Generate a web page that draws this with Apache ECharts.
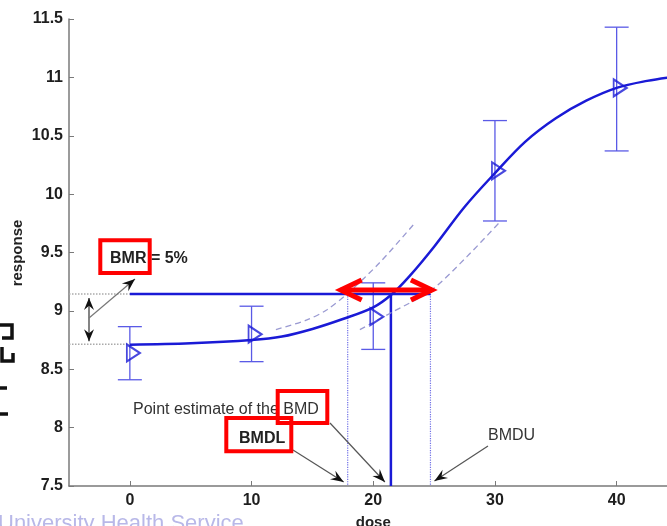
<!DOCTYPE html>
<html><head><meta charset="utf-8">
<script src="https://cdn.jsdelivr.net/npm/echarts@6/dist/echarts.min.js"></script>
<style>html,body{margin:0;padding:0;background:#fff;overflow:hidden}#c{width:667px;height:526px}</style>
</head><body><div id="c"></div>
<script>
// ---- data ----
const doses = [0, 10, 20, 30, 40];
const means = [8.64, 8.80, 8.95, 10.20, 10.91];
const errLow = [8.41, 8.565, 8.67, 9.77, 10.37];
const errHigh = [8.865, 9.04, 9.24, 10.63, 11.43];
const fitDose = [0, 5, 10, 12.5, 15, 17.5, 20, 21.5, 23, 25, 27.5, 30, 32.5, 35, 37.5, 40, 42.5, 45];
const fitResp = [8.71, 8.722, 8.75, 8.78, 8.845, 8.93, 9.03, 9.14, 9.30, 9.55, 9.89, 10.18, 10.45, 10.65, 10.80, 10.91, 10.97, 11.01];
const upperDose = [12, 14.5, 16.2, 17.9, 20.5, 23.4];
const upperResp = [8.84, 8.92, 9.01, 9.15, 9.41, 9.75];
const lowerDose = [18.9, 21.4, 24.8, 27.7, 30.3];
const lowerResp = [8.84, 8.98, 9.18, 9.465, 9.75];
const background = 8.715;
const bmrLevel = 9.145;
const bmd = 21.45;
const bmdl = 17.9;
const bmdu = 24.7;
const xTicks = [0, 10, 20, 30, 40];
const yTicks = [7.5, 8, 8.5, 9, 9.5, 10, 10.5, 11, 11.5];
const xMin = -5, xMax = 45, yMin = 7.5, yMax = 11.5;

const FONT = 'Liberation Sans, Arial, sans-serif';
const BLUE = '#1a1ad6';
const pair = (xs, ys) => xs.map((x, i) => [x, ys[i]]);

const chart = echarts.init(document.getElementById('c'));
const option = {
  animation: false,
  backgroundColor: '#fff',
  grid: { left: 69, top: 19, width: 608.5, height: 467, containLabel: false, outerBoundsMode: 'none' },
  xAxis: {
    type: 'value', min: xMin, max: xMax, interval: 5,
    name: 'dose', nameLocation: 'middle', nameGap: 29,
    nameTextStyle: { fontFamily: FONT, fontWeight: 'bold', fontSize: 15, color: '#222' },
    axisLine: { onZero: false, lineStyle: { color: '#7a7a7a', width: 1.5 } },
    axisTick: { inside: true, length: 5, customValues: xTicks, lineStyle: { color: '#7a7a7a', width: 1 } },
    axisLabel: { customValues: xTicks, margin: 7, fontFamily: FONT, fontWeight: 'bold', fontSize: 16, color: '#1e1e1e' },
    splitLine: { show: false }
  },
  yAxis: {
    type: 'value', min: yMin, max: yMax, interval: 0.5,
    axisLine: { show: true, onZero: false, lineStyle: { color: '#7a7a7a', width: 1.5 } },
    axisTick: { show: true, inside: true, length: 5, customValues: yTicks, lineStyle: { color: '#7a7a7a', width: 1 } },
    axisLabel: { customValues: yTicks, margin: 6, fontFamily: FONT, fontWeight: 'bold', fontSize: 16, color: '#1e1e1e' },
    splitLine: { show: false }
  },
  series: [
    { type: 'line', silent: true, symbol: 'none', data: [[xMin, background], [0, background]],
      lineStyle: { color: '#aaaaaa', width: 1.5, type: 'dotted' } },
    { type: 'line', silent: true, symbol: 'none', data: [[xMin, bmrLevel], [0, bmrLevel]],
      lineStyle: { color: '#aaaaaa', width: 1.5, type: 'dotted' } },
    { type: 'line', silent: true, symbol: 'none', data: [[bmdl, bmrLevel], [bmdl, yMin]],
      lineStyle: { color: '#7070e6', width: 1.2, type: 'dotted' } },
    { type: 'line', silent: true, symbol: 'none', data: [[bmdu, bmrLevel], [bmdu, yMin]],
      lineStyle: { color: '#7070e6', width: 1.2, type: 'dotted' } },
    { type: 'line', silent: true, symbol: 'none', data: [[0, bmrLevel], [bmdu, bmrLevel]],
      lineStyle: { color: BLUE, width: 2.5 } },
    { type: 'line', silent: true, symbol: 'none', data: [[bmd, bmrLevel], [bmd, yMin]],
      lineStyle: { color: BLUE, width: 2.5 } },
    { type: 'line', silent: true, symbol: 'none', smooth: 0.3, data: pair(upperDose, upperResp),
      lineStyle: { color: '#9a9ad2', width: 1.3, type: [6, 4] } },
    { type: 'line', silent: true, symbol: 'none', smooth: 0.3, data: pair(lowerDose, lowerResp),
      lineStyle: { color: '#9a9ad2', width: 1.3, type: [6, 4] } },
    { type: 'custom', silent: true,
      data: doses.map((d, i) => [d, errLow[i], errHigh[i]]),
      renderItem: function (params, api) {
        const lo = api.coord([api.value(0), api.value(1)]);
        const hi = api.coord([api.value(0), api.value(2)]);
        const w = 12;
        const st = { stroke: '#5a5ae6', lineWidth: 1.3 };
        return { type: 'group', children: [
          { type: 'line', shape: { x1: lo[0], y1: lo[1], x2: hi[0], y2: hi[1] }, style: st },
          { type: 'line', shape: { x1: lo[0] - w, y1: lo[1], x2: lo[0] + w, y2: lo[1] }, style: st },
          { type: 'line', shape: { x1: hi[0] - w, y1: hi[1], x2: hi[0] + w, y2: hi[1] }, style: st }
        ]};
      }
    },
    { type: 'line', silent: true, symbol: 'none', smooth: 0.35, data: pair(fitDose, fitResp),
      lineStyle: { color: BLUE, width: 2.5 } },
    { type: 'scatter', silent: true, data: pair(doses, means),
      symbol: 'path://M0,0 L0,20 L16,10 Z', symbolSize: [13, 17], symbolOffset: [3.5, 0],
      itemStyle: { color: 'rgba(0,0,0,0)', borderColor: BLUE, borderWidth: 2 }, z: 5 }
  ]
};
chart.setOption(option);

// ---- annotations ----
const P = (x, y) => chart.convertToPixel({ gridIndex: 0 }, [x, y]);
function head(tip, from, len, wid, color) {
  const dx = tip[0] - from[0], dy = tip[1] - from[1];
  const L = Math.hypot(dx, dy), ux = dx / L, uy = dy / L, px = -uy, py = ux;
  const bx = tip[0] - ux * len, by = tip[1] - uy * len;
  const nx = tip[0] - ux * len * 0.65, ny = tip[1] - uy * len * 0.65;
  return { type: 'polygon', z: 100, shape: { points: [tip, [bx + px * wid, by + py * wid], [nx, ny], [bx - px * wid, by - py * wid]] }, style: { fill: color } };
}
function arrow(from, tip, lineColor, headColor) {
  return [
    { type: 'line', z: 100, shape: { x1: from[0], y1: from[1], x2: tip[0], y2: tip[1] }, style: { stroke: lineColor, lineWidth: 1.2 } },
    head(tip, from, 13, 5, headColor)
  ];
}
const base = (v) => P(v, yMin);
const pL = base(bmdl), pD = base(bmd), pU = base(bmdu);
const yBmr = P(0, bmrLevel)[1], yBg = P(0, background)[1];
const xDbl = 89;
const g = [];
// glyph fragments on the left edge
const glyph = { stroke: '#111', lineWidth: 3.5, fill: null };
g.push({ type: 'polyline', shape: { points: [[0, 325], [12, 325], [12, 338], [2, 338]] }, style: glyph });
g.push({ type: 'polyline', shape: { points: [[2, 347], [2, 361], [13, 361], [13, 353]] }, style: glyph });
g.push({ type: 'line', shape: { x1: 0, y1: 388, x2: 7, y2: 388 }, style: { stroke: '#111', lineWidth: 3.5 } });
g.push({ type: 'line', shape: { x1: 0, y1: 414, x2: 8, y2: 414 }, style: { stroke: '#111', lineWidth: 3.5 } });
// y-axis title
g.push({ type: 'text', x: 17.5, y: 253, rotation: Math.PI / 2, z: 90,
  style: { text: 'response', font: 'bold 15px ' + FONT, fill: '#222', align: 'center', verticalAlign: 'middle' } });
// BMR double arrow and pointer
g.push({ type: 'line', z: 100, shape: { x1: xDbl, y1: yBmr + 4, x2: xDbl, y2: yBg - 3 }, style: { stroke: '#333', lineWidth: 1.2 } });
g.push(head([xDbl, yBmr + 4], [xDbl, yBg], 12, 5, '#111'));
g.push(head([xDbl, yBg - 3], [xDbl, yBmr], 12, 5, '#111'));
g.push(...arrow([xDbl, 318], [135, 279], '#777', '#111'));
// pointers to BMDL, BMD, BMDU
g.push(...arrow([293, 450], [pL[0] - 4, pL[1] - 4], '#555', '#111'));
g.push(...arrow([330, 423], [pD[0] - 6, pD[1] - 4], '#555', '#111'));
g.push(...arrow([488, 446], [pU[0] + 4, pU[1] - 5], '#555', '#111'));
// red double arrow BMDL..BMDU
const ry = yBmr - 4, rl = P(bmdl, bmrLevel)[0] - 7, rr = P(bmdu, bmrLevel)[0] + 1.5;
const red = { stroke: '#ff0000', lineWidth: 5, lineJoin: 'miter', lineCap: 'butt', fill: null };
g.push({ type: 'line', z: 110, shape: { x1: rl, y1: ry, x2: rr, y2: ry }, style: red });
g.push({ type: 'polyline', z: 110, shape: { points: [[rl + 21, ry - 10], [rl, ry], [rl + 21, ry + 10]] }, style: red });
g.push({ type: 'polyline', z: 110, shape: { points: [[rr - 21, ry - 10], [rr, ry], [rr - 21, ry + 10]] }, style: red });
// texts
const txt = (s, x, y, font, fill) => ({ type: 'text', z: 90, style: { text: s, x: x, y: y, font: font, fill: fill || '#222', verticalAlign: 'middle', align: 'left' } });
g.push(txt('BMR = 5%', 110, 259, 'bold 16px ' + FONT));
g.push(txt('Point estimate of the BMD', 133, 410, '16px ' + FONT, '#333'));
g.push(txt('BMDL', 239, 439, 'bold 16px ' + FONT));
g.push(txt('BMDU', 488, 436, '16px ' + FONT, '#333'));
g.push(txt('University Health Service', -2, 524, '22px ' + FONT, '#b8b8e8'));
// red boxes
const box = (x, y, w, h) => ({ type: 'rect', z: 120, shape: { x: x, y: y, width: w, height: h }, style: { stroke: '#ff0000', lineWidth: 4, fill: null } });
g.push(box(100.3, 240.3, 49.4, 32.7));
g.push(box(277.7, 391, 49.6, 32));
g.push(box(226.3, 418, 65, 33.3));
chart.setOption({ graphic: { elements: g } });
</script>
</body></html>
